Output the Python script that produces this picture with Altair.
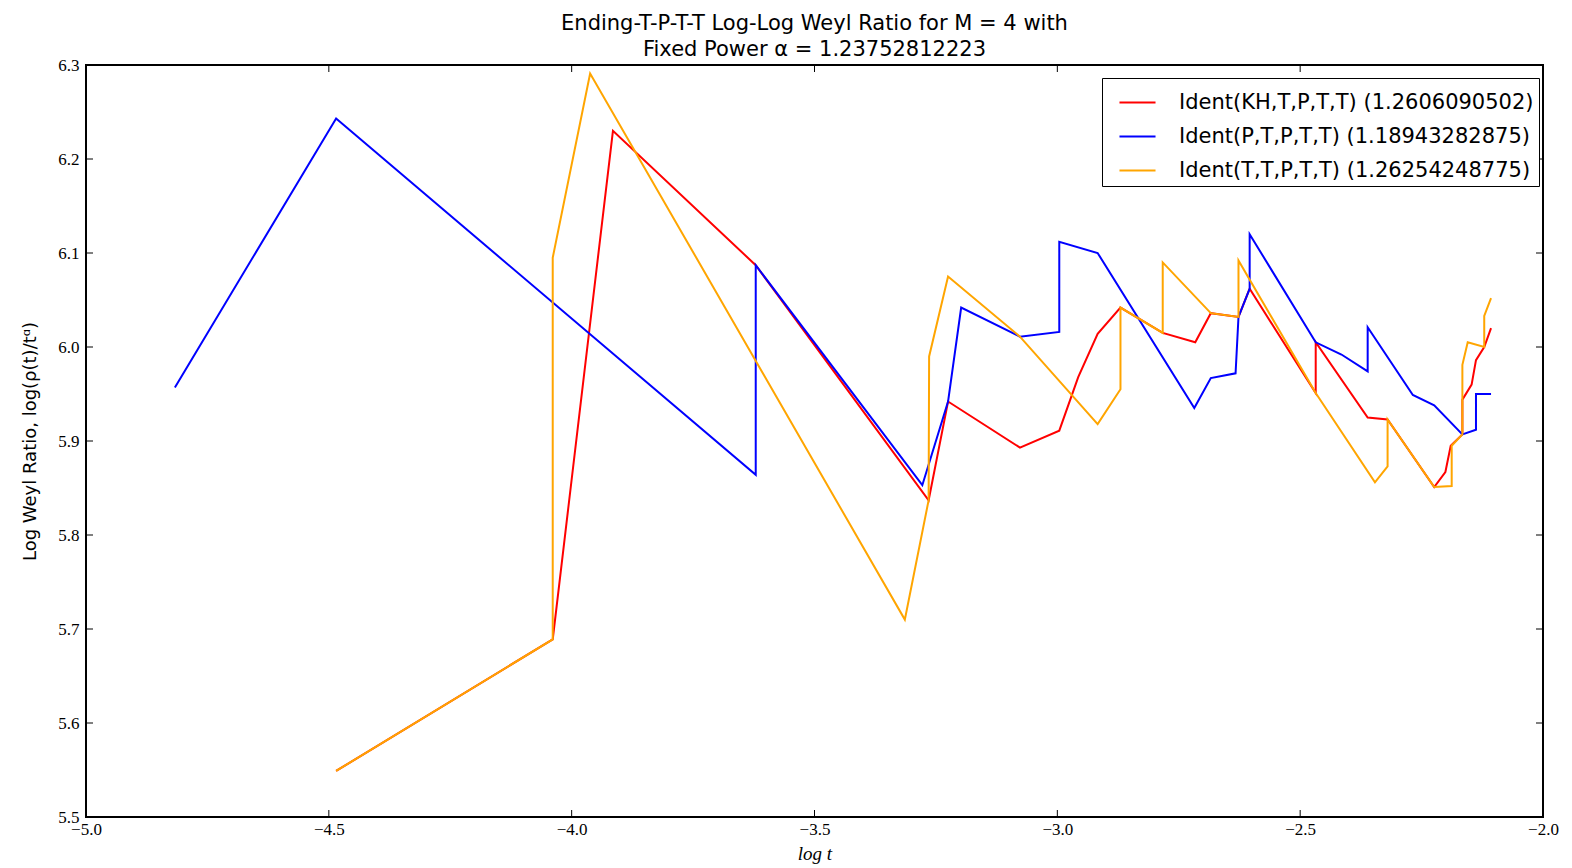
import altair as alt
import pandas as pd

series_names = ["Ident(KH,T,P,T,T) (1.2606090502)",
                "Ident(P,T,P,T,T) (1.18943282875)",
                "Ident(T,T,P,T,T) (1.26254248775)"]
series_colors = ["#ff0000", "#0000ff", "#ffa500"]

red_x = [-4.485, -4.039, -3.915, -3.621, -3.265, -3.225, -3.077, -2.996, -2.957, -2.917,
         -2.870, -2.783, -2.716, -2.684, -2.627, -2.604, -2.468, -2.468, -2.361, -2.320,
         -2.224, -2.201, -2.190, -2.166, -2.166, -2.147, -2.138, -2.121, -2.107]
red_y = [5.549, 5.689, 6.230, 6.087, 5.837, 5.942, 5.893, 5.911, 5.968, 6.014,
         6.042, 6.015, 6.005, 6.036, 6.032, 6.062, 5.951, 6.005, 5.925, 5.923,
         5.851, 5.867, 5.895, 5.907, 5.944, 5.960, 5.986, 6.000, 6.020]

blue_x = [-4.817, -4.485, -3.621, -3.621, -3.278, -3.225, -3.198, -3.077, -2.996, -2.996,
          -2.917, -2.718, -2.684, -2.633, -2.627, -2.604, -2.604, -2.468, -2.415, -2.361,
          -2.361, -2.268, -2.224, -2.166, -2.138, -2.138, -2.107]
blue_y = [5.957, 6.243, 5.864, 6.087, 5.853, 5.942, 6.042, 6.011, 6.016, 6.112,
          6.100, 5.935, 5.967, 5.972, 6.032, 6.062, 6.120, 6.005, 5.992, 5.974,
          6.021, 5.949, 5.938, 5.907, 5.912, 5.950, 5.950]

orange_x = [-4.485, -4.039, -4.039, -3.962, -3.314, -3.265, -3.264, -3.225, -3.077, -2.917,
            -2.870, -2.870, -2.783, -2.783, -2.684, -2.627, -2.627, -2.468, -2.346, -2.320,
            -2.320, -2.224, -2.188, -2.188, -2.166, -2.166, -2.155, -2.121, -2.121, -2.107]
orange_y = [5.549, 5.689, 6.095, 6.291, 5.710, 5.837, 5.990, 6.075, 6.011, 5.918,
            5.955, 6.042, 6.015, 6.090, 6.036, 6.032, 6.092, 5.951, 5.856, 5.873,
            5.923, 5.851, 5.852, 5.895, 5.907, 5.981, 6.005, 6.000, 6.033, 6.052]

x_ticks = [-5.0, -4.5, -4.0, -3.5, -3.0, -2.5, -2.0]
y_ticks = [5.5, 5.6, 5.7, 5.8, 5.9, 6.0, 6.1, 6.2, 6.3]

W, H = 1457, 752

xs = alt.Scale(domain=[-5.0, -2.0], nice=False, zero=False)
ys = alt.Scale(domain=[5.5, 6.3], nice=False, zero=False)
cs = alt.Scale(domain=series_names, range=series_colors)

x_axis = alt.Axis(values=x_ticks, format=".1f", ticks=False, domain=False, grid=False,
                  labelFlush=False, labelOverlap=False,
                  labelFont="Liberation Serif", labelFontSize=17, labelColor="black",
                  labelPadding=4, title="log t", titleFont="Liberation Serif",
                  titleFontSize=19, titleFontWeight="normal", titleFontStyle="italic",
                  titleColor="black", titlePadding=7)
y_axis = alt.Axis(values=y_ticks, format=".1f", ticks=False, domain=False, grid=False,
                  labelFlush=False, labelOverlap=False,
                  labelFont="Liberation Serif", labelFontSize=17, labelColor="black",
                  labelPadding=7, title="Log Weyl Ratio, log(ρ(t)/tᵅ)",
                  titleFont="DejaVu Sans", titleFontSize=18, titleFontWeight="normal",
                  titleColor="black", titlePadding=18)

legend = alt.Legend(title=None, orient="none", legendX=1016, legendY=13,
                    symbolType="stroke", symbolSize=1300, symbolStrokeWidth=2,
                    symbolOffset=11,
                    labelFontSize=21, labelFont="DejaVu Sans", labelColor="black",
                    labelOffset=22, labelLimit=600, padding=5, rowPadding=4,
                    strokeColor="black", fillColor="white", cornerRadius=0)

layers = []
for xv, yv, name in zip([red_x, blue_x, orange_x], [red_y, blue_y, orange_y], series_names):
    df = pd.DataFrame({"x": xv, "y": yv, "i": list(range(len(xv))), "s": [name] * len(xv)})
    layers.append(
        alt.Chart(df).mark_line(strokeWidth=2, clip=True).encode(
            x=alt.X("x:Q", scale=xs, axis=x_axis),
            y=alt.Y("y:Q", scale=ys, axis=y_axis),
            color=alt.Color("s:N", scale=cs, legend=legend),
            order=alt.Order("i:Q"),
        )
    )

xt = pd.DataFrame({"x": x_ticks})
yt = pd.DataFrame({"y": y_ticks})
tick_bottom = alt.Chart(xt).mark_rule(color="black", strokeWidth=1).encode(
    x=alt.X("x:Q", scale=xs, axis=x_axis), y=alt.value(H), y2=alt.value(H - 7))
tick_top = alt.Chart(xt).mark_rule(color="black", strokeWidth=1).encode(
    x=alt.X("x:Q", scale=xs, axis=x_axis), y=alt.value(0), y2=alt.value(7))
tick_left = alt.Chart(yt).mark_rule(color="black", strokeWidth=1).encode(
    y=alt.Y("y:Q", scale=ys, axis=y_axis), x=alt.value(0), x2=alt.value(7))
tick_right = alt.Chart(yt).mark_rule(color="black", strokeWidth=1).encode(
    y=alt.Y("y:Q", scale=ys, axis=y_axis), x=alt.value(W), x2=alt.value(W - 7))

chart = alt.layer(*layers, tick_bottom, tick_top, tick_left, tick_right).properties(
    width=W, height=H,
    title=alt.TitleParams(
        text=["Ending-T-P-T-T Log-Log Weyl Ratio for M = 4 with",
              "Fixed Power α = 1.23752812223"],
        font="DejaVu Sans", fontSize=21, fontWeight="normal", color="black",
        anchor="middle", lineHeight=26, offset=-4),
    autosize=alt.AutoSizeParams(type="none"),
    padding={"left": 78, "top": 57, "right": 21, "bottom": 50},
).configure(background="white").configure_view(stroke="black", strokeWidth=2)

chart.save("out.html", embed_options={"renderer": "svg", "actions": False})
